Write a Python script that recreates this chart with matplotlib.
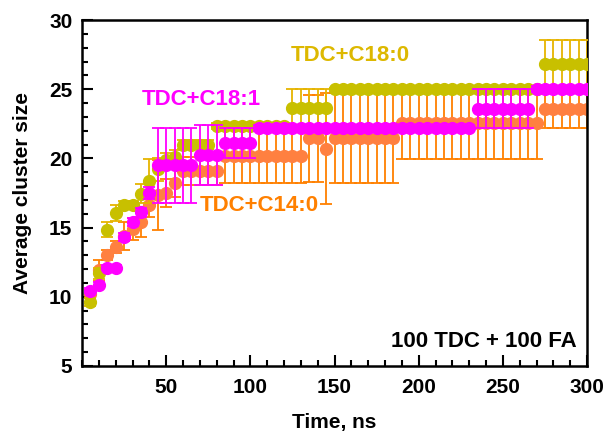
import matplotlib.pyplot as plt
import numpy as np

plt.rcParams['font.family'] = ['Liberation Sans', 'DejaVu Sans']
plt.rcParams['font.weight'] = 'bold'

# time axis, ns (one point every 5 ns)
time_ns = np.arange(5, 305, 5)

# TDC+C18:0
c180_mean = ([9.6, 11.7, 14.85, 16.05, 16.65, 16.65, 17.45, 18.35, 19.2, 19.9, 20.1]
             + [21.0] * 4 + [22.35] * 9 + [23.65] * 5 + [25.0] * 25 + [26.8] * 6)
c180_err = ([0.3, 0.4, 0.55, 0.55, 0.3, 0.3, 0.7, 1.6, 0.8, 0.5, 0.5]
            + [0.3] * 4 + [0.2] * 9 + [1.35] * 5 + [0.1] * 25 + [1.75] * 6)

# TDC+C18:1
c181_mean = ([10.45, 10.85, 12.1, 12.1, 14.3, 15.4, 16.1, 17.5]
             + [19.5] * 5 + [20.25] * 3 + [21.1] * 4 + [22.2] * 26
             + [23.6] * 7 + [25.0] * 7)
c181_err = ([0.2, 0.2, 0.2, 0.2, 0.3, 0.3, 0.3, 0.4]
            + [2.7] * 5 + [2.15] * 3 + [1.1] * 4 + [0.2] * 26
            + [1.4] * 7 + [0.2] * 7)

# TDC+C14:0
c140_mean = ([10.2, 11.9, 13.0, 13.6, 14.4, 14.9, 15.4, 16.6, 17.35, 17.5, 18.2]
             + [19.1] * 5 + [20.15] * 10 + [21.45] * 2 + [20.7]
             + [21.45] * 8 + [22.55] * 17 + [23.55] * 6)
c140_err = ([0.3, 0.75, 0.35, 0.4, 1.0, 0.8, 1.1, 0.8, 2.5, 1.0, 1.0]
            + [1.0] * 5 + [1.95] * 10 + [3.15] * 2 + [4.0]
            + [3.25] * 8 + [2.6] * 17 + [1.35] * 6)

fig = plt.figure(figsize=(6.04, 4.36), dpi=100)
ax = fig.add_axes([0.1358, 0.1606, 0.8361, 0.7935])

common = dict(fmt='o', markersize=8.5, elinewidth=1.3, capsize=4, capthick=1.3)
ax.errorbar(time_ns, c140_mean, yerr=c140_err, color='#FF8040',
            ecolor='#FF8000', zorder=2, **common)
ax.errorbar(time_ns, c180_mean, yerr=c180_err, color='#C8C000',
            ecolor='#E6B400', zorder=3, **common)
ax.errorbar(time_ns, c181_mean, yerr=c181_err, color='#FF00FF',
            ecolor='#FF00FF', zorder=4, **common)

ax.text(124, 27.4, 'TDC+C18:0', color='#DDB800', fontsize=16,
        fontweight='bold', va='center', ha='left', zorder=5)
ax.text(35.5, 24.25, 'TDC+C18:1', color='#FF00FF', fontsize=16,
        fontweight='bold', va='center', ha='left', zorder=5)
ax.text(70, 16.6, 'TDC+C14:0', color='#FF8000', fontsize=16,
        fontweight='bold', va='center', ha='left', zorder=5)
ax.text(294, 6.8, '100 TDC + 100 FA', color='black', fontsize=16,
        fontweight='bold', va='center', ha='right', zorder=5)

ax.set_xlim(0, 300)
ax.set_ylim(5, 30)
ax.set_xticks(np.arange(50, 301, 50))
ax.set_xticks(np.arange(0, 301, 10), minor=True)
ax.set_yticks(np.arange(5, 31, 5))
ax.set_yticks(np.arange(5, 31, 1), minor=True)

ax.tick_params(which='both', direction='in', top=False, right=False, width=1.5)
ax.tick_params(which='major', length=8, labelsize=15)
ax.tick_params(which='minor', length=4.5)
ax.tick_params(axis='x', pad=9)
ax.tick_params(axis='y', pad=7)
for lab in ax.get_xticklabels() + ax.get_yticklabels():
    lab.set_fontweight('bold')
for sp in ax.spines.values():
    sp.set_linewidth(1.8)

ax.set_xlabel('Time, ns', fontsize=15, fontweight='bold', labelpad=11)
ax.set_ylabel('Average cluster size', fontsize=15, fontweight='bold', labelpad=12)

fig.savefig('out.png', dpi=100)
